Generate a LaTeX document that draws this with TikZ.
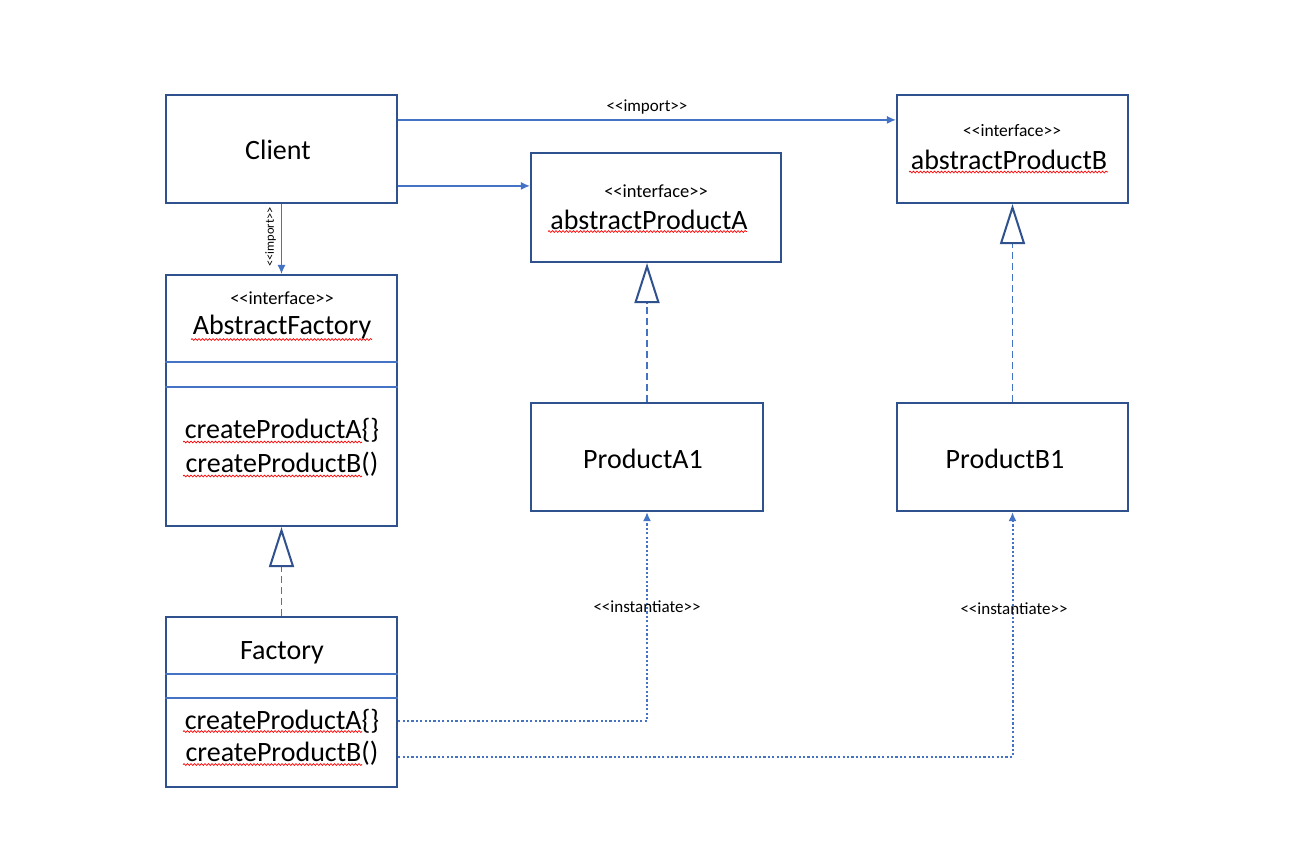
\documentclass[tikz,border=0pt]{standalone}
\usepackage{fontspec}
\setmainfont{Carlito}[Ligatures=TeXOff]
\usetikzlibrary{arrows.meta,decorations.pathmorphing,calc}
\definecolor{boxblue}{HTML}{2F528F}
\definecolor{lineblue}{HTML}{4472C4}
\tikzset{
  umlbox/.style={draw=boxblue,line width=2.2pt,inner sep=0pt},
  conn/.style={draw=lineblue,line width=1.2pt},
  arr/.style={conn,-{Latex[length=9pt,width=8pt]}},
  inst/.style={draw=lineblue,line width=2pt,dash pattern=on 2.2pt off 2.2pt,-{Latex[length=9pt,width=8pt]}},
  real/.style={draw=lineblue,line width=1.2pt,dash pattern=on 7pt off 4pt,
     -{Triangle[open,length=40pt,width=25pt,line width=2pt,color=boxblue,fill=white]}},
  sep/.style={draw=lineblue,line width=1.1pt},
  big/.style={font=\fontsize{28}{30}\selectfont,inner sep=0pt,anchor=center},
  stereo/.style={font=\fontsize{18.5}{20}\selectfont,inner sep=0pt,anchor=center},
  lbl/.style={font=\fontsize{17}{19}\selectfont,inner sep=0pt,anchor=center},
  squig/.style={draw=red,line width=0.7pt,decorate,decoration={snake,amplitude=0.9pt,segment length=3.5pt}}
}
\begin{document}
\begin{tikzpicture}[x=1pt,y=-1pt]
\useasboundingbox (0,0) rectangle (1306,847);
\fill[white] (0,0) rectangle (1306,847);

% boxes
\node[umlbox,minimum width=231pt,minimum height=108pt] (client) at (281.5,149) {};
\node[umlbox,minimum width=250pt,minimum height=109pt] (apa) at (656,207.5) {};
\node[umlbox,minimum width=231pt,minimum height=108pt] (apb) at (1012.5,149) {};
\node[umlbox,minimum width=231pt,minimum height=251pt] (af) at (281.5,400.5) {};
\node[umlbox,minimum width=232pt,minimum height=108pt] (pa1) at (647,457) {};
\node[umlbox,minimum width=231pt,minimum height=108pt] (pb1) at (1012.5,457) {};
\node[umlbox,minimum width=231pt,minimum height=170pt] (fac) at (281.5,702) {};

% separators
\draw[sep] (af.west |- 0,362) -- (af.east |- 0,362);
\draw[sep] (af.west |- 0,387) -- (af.east |- 0,387);
\draw[sep] (fac.west |- 0,674) -- (fac.east |- 0,674);
\draw[sep] (fac.west |- 0,698) -- (fac.east |- 0,698);

% texts
\node[big] (tclient) at (278,150) {Client};
\node[stereo] (afst) at (282,298) {<<interface>>};
\node[big] (aft) at (282,327) {AbstractFactory};
\node[big] (afa) at (282,430) {createProductA\{\}};
\node[big] (afb) at (282,464) {createProductB()};
\node[stereo] (apast) at (656,191) {<<interface>>};
\node[big] (apat) at (649,220) {abstractProductA};
\node[stereo,font=\fontsize{17.5}{19}\selectfont] (apbst) at (1012,131) {<<interface>>};
\node[big] (apbt) at (1009,160) {abstractProductB};
\node[big] (pa1t) at (643,459) {ProductA1};
\node[big] (pb1t) at (1005,459) {ProductB1};
\node[big] (fact) at (282,653) {Factory};
\node[big] (faca) at (282,721) {createProductA\{\}};
\node[big] (facb) at (282,753) {createProductB()};

% spell-check squiggles
\draw[squig] (191,339.5) -- (372,339.5);
\draw[squig] (548,231.5) -- (747,231.5);
\draw[squig] (909,172) -- (1108,172);
\draw[squig] (183,442) -- (362,442);
\draw[squig] (183,476) -- (362,476);
\draw[squig] (183,731.5) -- (362,731.5);
\draw[squig] (183,764.5) -- (362,764.5);

% client arrows
\coordinate (c1) at ($(client.north east)+(0,26)$);
\coordinate (c2) at ($(client.north east)+(0,92)$);
\draw[arr] (c1) -- (c1 -| apb.west) node[lbl,midway,above=5pt] (limp) {<<import>>};
\draw[arr] (client.south) -- (af.north);
\node[rotate=90,font=\fontsize{12.5}{14}\selectfont,inner sep=0pt] (limp2) at ($(client.south)!0.5!(af.north)+(-11,-2)$) {<<import>>};
\draw[arr] (c2) -- (c2 -| apa.west);

% realizations
\draw[real] (fac.north -| af.south) -- (af.south);
\draw[real] (pa1.north) -- (pa1.north |- apa.south);
\draw[real] (pb1.north) -- (pb1.north |- apb.south);

% instantiate
\coordinate (d1) at (fac.east |- faca);
\coordinate (d2) at (fac.east |- 0,757);
\draw[inst] (d1) -| (pa1.south);
\draw[inst] (d2) -| (pb1.south);
\node[lbl] (li1) at (647,607) {<<instantiate>>};
\node[lbl] (li2) at (1014,609) {<<instantiate>>};
\end{tikzpicture}
\end{document}
